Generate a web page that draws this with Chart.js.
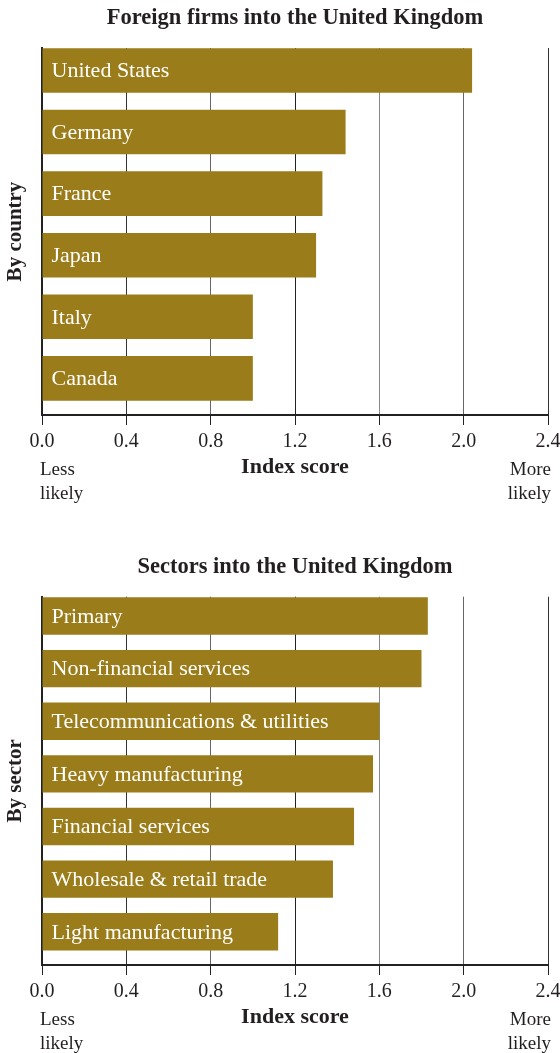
<!DOCTYPE html>
<html>
<head>
<meta charset="utf-8">
<script src="https://cdn.jsdelivr.net/npm/chart.js@4.4.0/dist/chart.umd.min.js"></script>
<style>
  body { margin: 0; background: #fff; }
  .panel { position: relative; width: 560px; }
</style>
</head>
<body>
<div class="panel" style="height:503px"><canvas id="countryChart"></canvas></div>
<div class="panel" style="height:550px"><canvas id="sectorChart"></canvas></div>
<script>
// index scores, read top to bottom
const countries = ['United States', 'Germany', 'France', 'Japan', 'Italy', 'Canada'];
const countryScores = [2.04, 1.44, 1.33, 1.30, 1.00, 1.00];

const sectors = ['Primary', 'Non-financial services', 'Telecommunications & utilities',
  'Heavy manufacturing', 'Financial services', 'Wholesale & retail trade', 'Light manufacturing'];
const sectorScores = [1.83, 1.80, 1.60, 1.57, 1.48, 1.38, 1.12];

const scoreTicks = [0, 0.4, 0.8, 1.2, 1.6, 2.0, 2.4];

const FONT = "'Liberation Serif', 'Times New Roman', serif";
const INK = '#231f20';
const GOLD = '#9a7c1a';
const gridShades = ['#222', '#333', '#666', '#222', '#888', '#666', '#333'];

// category name written inside each bar
const barLabels = {
  id: 'barLabels',
  afterDatasetsDraw(chart, args, opts) {
    const ctx = chart.ctx;
    const names = opts.names || [];
    ctx.save();
    ctx.font = '22px ' + FONT;
    ctx.fillStyle = '#fff';
    ctx.textAlign = 'left';
    ctx.textBaseline = 'middle';
    chart.getDatasetMeta(0).data.forEach((bar, i) => {
      ctx.fillText(names[i], bar.base + 9, bar.y + 1);
    });
    ctx.restore();
  }
};

// "Less likely" / "More likely" under the ends of the score axis
const axisEnds = {
  id: 'axisEnds',
  afterDraw(chart) {
    const x = chart.scales.x;
    const ctx = chart.ctx;
    ctx.save();
    ctx.font = '19px ' + FONT;
    ctx.fillStyle = INK;
    ctx.textBaseline = 'middle';
    ctx.textAlign = 'left';
    ctx.fillText('Less', x.left - 2, x.top + 55);
    ctx.fillText('likely', x.left - 2, x.top + 79);
    ctx.textAlign = 'right';
    ctx.fillText('More', x.right + 3, x.top + 55);
    ctx.fillText('likely', x.right + 3, x.top + 79);
    ctx.restore();
  }
};

function makeChart(id, title, axisTitle, names, scores, titlePad, yRange, barPct) {
  return new Chart(document.getElementById(id), {
    type: 'bar',
    data: {
      datasets: [{
        data: scores.map((v, i) => ({ x: v, y: i })),
        backgroundColor: GOLD,
        borderWidth: 0,
        barPercentage: barPct,
        categoryPercentage: 1
      }]
    },
    options: {
      indexAxis: 'y',
      responsive: true,
      maintainAspectRatio: false,
      animation: false,
      layout: { padding: { left: 0, right: 12, top: 0, bottom: 0 } },
      plugins: {
        legend: { display: false },
        tooltip: { enabled: false },
        title: {
          display: true,
          text: title,
          fullSize: false,
          color: INK,
          font: { family: FONT, size: 22.5, weight: 'bold' },
          padding: titlePad
        },
        barLabels: { names: names }
      },
      scales: {
        x: {
          type: 'linear',
          min: 0,
          max: 2.4,
          afterBuildTicks: s => { s.ticks = scoreTicks.map(v => ({ value: v })); },
          afterFit: s => { s.height = 88; s.paddingLeft = 0; s.paddingRight = 0; },
          ticks: {
            color: INK,
            padding: 5,
            font: { family: FONT, size: 20 },
            callback: v => Number(v).toFixed(1)
          },
          grid: {
            color: ctx => gridShades[ctx.index] || '#333',
            tickColor: '#222',
            tickLength: 10,
            lineWidth: 1
          },
          border: { display: true, color: '#222', width: 2 },
          title: {
            display: true,
            text: 'Index score',
            color: INK,
            font: { family: FONT, size: 22, weight: 'bold' },
            padding: { top: 0, bottom: 22 }
          }
        },
        y: {
          type: 'linear',
          reverse: true,
          offset: false,
          min: yRange[0],
          max: yRange[1],
          afterBuildTicks: s => { s.ticks = names.map((_, i) => ({ value: i })); },
          afterFit: s => { s.width = 42; },
          ticks: { display: false },
          grid: { display: false },
          border: { display: true, color: '#222', width: 2 },
          title: {
            display: true,
            text: axisTitle,
            color: INK,
            font: { family: FONT, size: 21, weight: 'bold' },
            padding: { top: 3, bottom: 0 }
          }
        }
      }
    },
    plugins: [barLabels, axisEnds]
  });
}

makeChart('countryChart', 'Foreign firms into the United Kingdom', 'By country',
  countries, countryScores, { top: 4.5, bottom: 16.5 }, [-0.365, 5.595], 0.725);

makeChart('sectorChart', 'Sectors into the United Kingdom', 'By sector',
  sectors, sectorScores, { top: 50.5, bottom: 16.2 }, [-0.367, 6.632], 0.712);
</script>
</body>
</html>
